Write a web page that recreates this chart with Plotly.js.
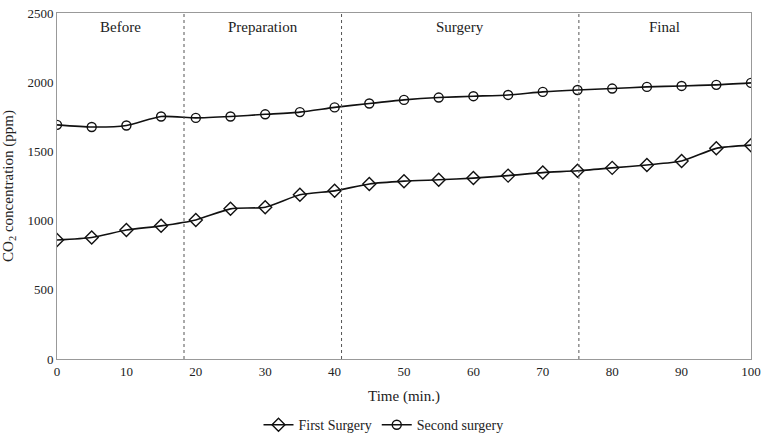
<!DOCTYPE html>
<html>
<head>
<meta charset="utf-8">
<script src="https://cdn.plot.ly/plotly-3.0.1.min.js"></script>
<style>html,body{margin:0;padding:0;background:#fff;}#chart{width:767px;height:441px;}</style>
</head>
<body>
<div id="chart"></div>
<script>
const time = [0,5,10,15,20,25,30,35,40,45,50,55,60,65,70,75,80,85,90,95,100];
const firstSurgery = [860,878,932,962,1005,1085,1097,1187,1215,1265,1285,1295,1307,1325,1347,1360,1381,1402,1430,1522,1545];
const secondSurgery = [1692,1676,1687,1752,1742,1752,1768,1784,1818,1846,1872,1889,1899,1908,1930,1944,1954,1966,1973,1981,1995];
const seriesNames = ["First Surgery", "Second surgery"];
const phaseLabels = ["Before", "Preparation", "Surgery", "Final"];
const phaseBounds = [0, 18.3, 41, 75.2, 100];

const font = "Liberation Serif, Times New Roman, serif";
const traces = [
  {x: time, y: firstSurgery, name: seriesNames[0], mode: "lines+markers", type: "scatter",
   line: {color: "#111", width: 1.6, shape: "spline", smoothing: 0.6},
   marker: {symbol: "diamond-open", size: 10, color: "#111", line: {width: 1.4, color: "#111"}}},
  {x: time, y: secondSurgery, name: seriesNames[1], mode: "lines+markers", type: "scatter",
   line: {color: "#111", width: 1.6, shape: "spline", smoothing: 0.6},
   marker: {symbol: "circle-open", size: 9, color: "#111", line: {width: 1.4, color: "#111"}}}
];

const shapes = phaseBounds.slice(1, -1).map(b => ({
  type: "line", xref: "x", yref: "paper", x0: b, x1: b, y0: 0, y1: 1,
  line: {color: "#555", width: 1, dash: "dot"}
}));
const annotations = phaseLabels.map((t, i) => ({
  text: t, xref: "x", yref: "paper", x: (phaseBounds[i] + phaseBounds[i+1]) / 2, y: 0.96,
  showarrow: false, xanchor: "center", yanchor: "middle",
  font: {family: font, size: 15, color: "#222"}
}));

const layout = {
  width: 767, height: 441,
  margin: {l: 57, r: 16, t: 13, b: 82, autoexpand: false},
  paper_bgcolor: "#fff", plot_bgcolor: "#fff",
  font: {family: font, color: "#222"},
  showlegend: true,
  legend: {orientation: "h", x: 0.5, xref: "container", xanchor: "center", y: 0.036, yref: "container", yanchor: "middle",
           font: {family: font, size: 14, color: "#222"}},
  xaxis: {range: [0, 100], tickvals: [0,10,20,30,40,50,60,70,80,90,100], showgrid: false, zeroline: false,
          showline: true, mirror: true, linecolor: "#999", linewidth: 1, ticks: "",
          tickfont: {family: font, size: 13, color: "#222"},
          title: {text: "Time (min.)", font: {family: font, size: 15, color: "#222"}, standoff: 12}},
  yaxis: {range: [0, 2500], dtick: 500, showgrid: false, zeroline: false,
          showline: true, mirror: true, linecolor: "#999", linewidth: 1, ticks: "",
          tickfont: {family: font, size: 13, color: "#222"},
          title: {text: "CO<sub>2</sub> concentration (ppm)", font: {family: font, size: 15, color: "#222"}, standoff: 10}},
  shapes: shapes,
  annotations: annotations
};
Plotly.newPlot("chart", traces, layout, {displayModeBar: false, staticPlot: true});
</script>
</body>
</html>
